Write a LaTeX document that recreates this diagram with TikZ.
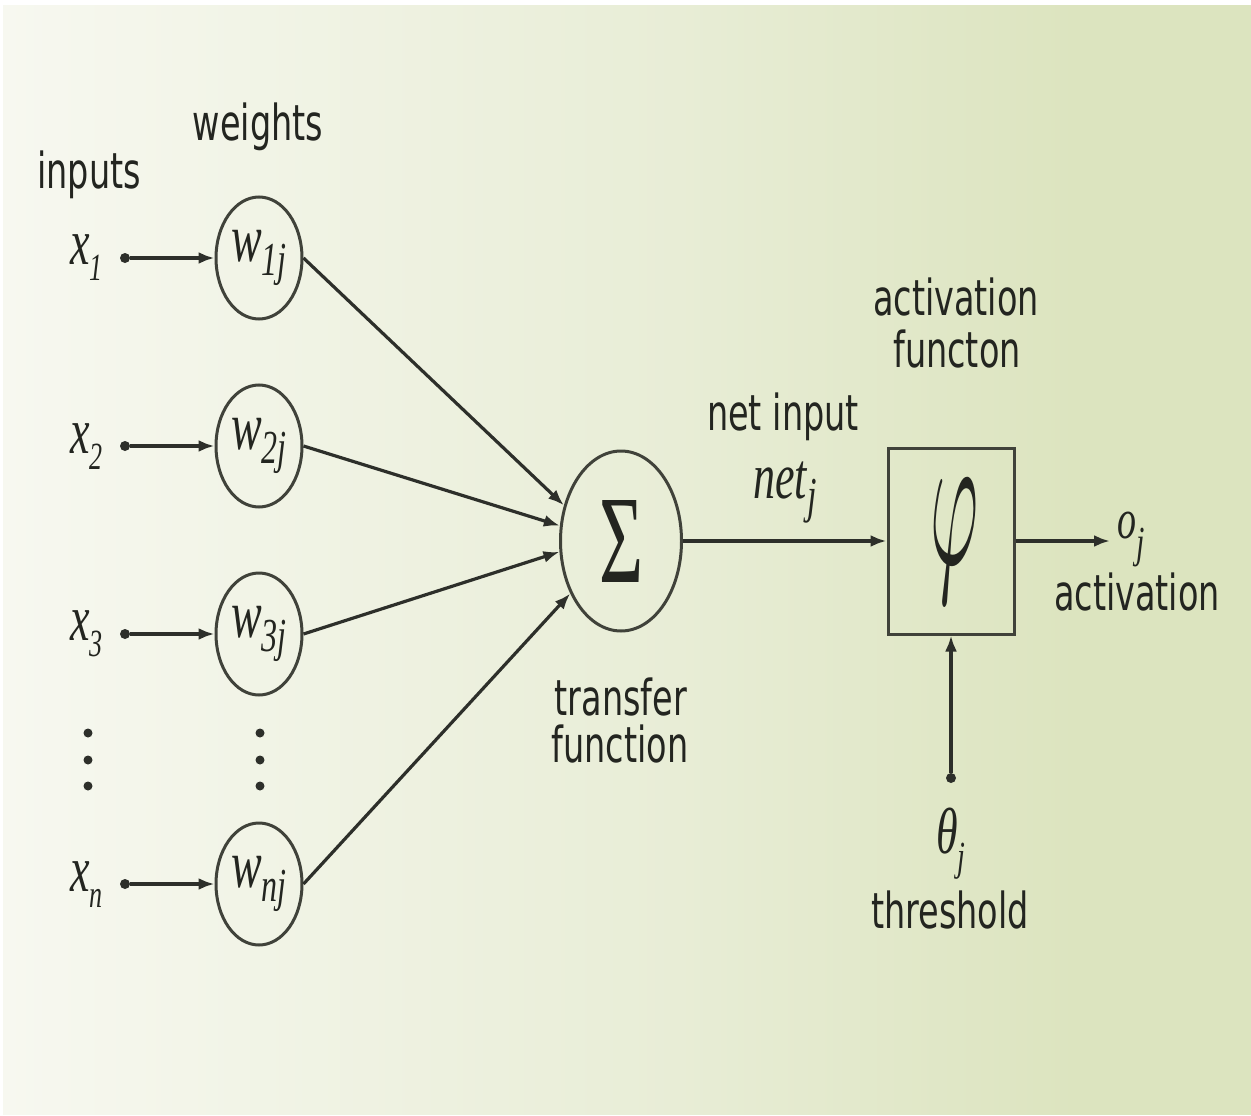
\documentclass[tikz,border=0pt]{standalone}
\usepackage{fontspec}
\usepackage{graphicx}
\setmainfont{Liberation Serif}
\newfontfamily\dejavu{DejaVu Sans}
\usetikzlibrary{arrows.meta,shapes.geometric}
\definecolor{ink}{RGB}{35,37,32}
\definecolor{linec}{RGB}{45,47,42}
\definecolor{ringc}{RGB}{64,66,58}
\definecolor{bgA}{RGB}{247,248,240}
\definecolor{bgB}{RGB}{232,237,214}
\definecolor{bgC}{RGB}{220,228,191}
\pgfdeclarehorizontalshading{bgshade}{100bp}{color(0bp)=(bgA); color(25bp)=(bgA); color(52bp)=(bgB); color(68bp)=(bgC); color(100bp)=(bgC)}
\newcommand{\vsc}[1]{\scalebox{1}[1.48]{#1}}
\newcommand{\mylab}[5]{\scalebox{1}[1.48]{\fontsize{#1pt}{#1pt}\selectfont\itshape #2\raisebox{-#3pt}{\fontsize{#4pt}{#4pt}\selectfont #5}}}
\begin{document}
\begin{tikzpicture}[x=1pt,y=-1pt,
  lbl/.style={font=\dejavu\fontsize{33.5}{40}\selectfont, text=ink, inner sep=0pt, anchor=base},
  symb/.style={text=ink, inner sep=0pt},
  wnode/.style={ellipse, draw=ringc, line width=3pt, minimum width=86pt, minimum height=122pt, inner sep=0pt, text=ink},
  dotnode/.style={circle, fill=linec, inner sep=0pt, minimum size=10pt},
  vdot/.style={circle, fill=linec, inner sep=0pt, minimum size=9pt},
  conn/.style={draw=linec, line width=3.2pt, -{Latex[length=16pt,width=12pt]}}]
% background
\fill[white] (0,0) rectangle (1251,1116);
\shade[shading=bgshade] (3,6) rectangle (1251,1114);
\useasboundingbox (0,0) rectangle (1251,1116);
% headings
\node[lbl] (tw) at (258,140) {\vsc{weights}};
\node[lbl] (ti) at (89,188) {\vsc{inputs}};
% weight nodes
\node[wnode] (w1) at (259,258) {\mylab{46}{w}{9}{32}{1j}};
\node[wnode] (w2) at (259,446) {\mylab{46}{w}{9}{32}{2j}};
\node[wnode] (w3) at (259,634) {\mylab{46}{w}{9}{32}{3j}};
\node[wnode] (wn) at (259,884) {\mylab{46}{w}{9}{32}{nj}};
% input dots
\node[dotnode] (d1) at (125,258) {};
\node[dotnode] (d2) at (125,446) {};
\node[dotnode] (d3) at (125,634) {};
\node[dotnode] (dn) at (125,884) {};
% input labels
\node[symb, anchor=base west] (x1) at (70,264) {\mylab{44}{x}{11}{26}{1}};
\node[symb, anchor=base west] (x2) at (70,453) {\mylab{44}{x}{11}{26}{2}};
\node[symb, anchor=base west] (x3) at (70,640) {\mylab{44}{x}{11}{26}{3}};
\node[symb, anchor=base west] (xn) at (70,891) {\mylab{44}{x}{11}{26}{n}};
% vertical ellipses
\node[vdot] (v1) at (88,733) {};
\node[vdot] (v2) at (88,760) {};
\node[vdot] (v3) at (88,786) {};
\node[vdot] (u1) at (260,733) {};
\node[vdot] (u2) at (260,760) {};
\node[vdot] (u3) at (260,786) {};
% sum node
\node[ellipse, draw=ringc, line width=3pt, minimum width=121pt, minimum height=180pt, inner sep=0pt, text=ink] (sig) at (621,541) {\resizebox{44pt}{82pt}{Σ}};
% activation box
\node[rectangle, draw=ringc, line width=3pt, minimum width=126pt, minimum height=186pt, inner sep=0pt, text=ink] (act) at (951,541) {\hspace*{8pt}\resizebox{48pt}{85pt}{$\varphi$}};
% connectors
\draw[conn] (d1) -- (w1);
\draw[conn] (d2) -- (w2);
\draw[conn] (d3) -- (w3);
\draw[conn] (dn) -- (wn);
\draw[conn] (w1.east) -- (sig.148);
\draw[conn] (w2.east) -- (sig.166);
\draw[conn] (w3.east) -- (sig.190);
\draw[conn] (wn.east) -- (sig.226);
\draw[conn] (sig) -- (act);
\coordinate (oe) at (1110,541);
\draw[conn] (act) -- (oe);
\node[dotnode] (dt) at (951,778) {};
\draw[conn] (dt) -- (act);
% labels
\node[lbl] (tnet) at (783,430) {\vsc{net input}};
\node[symb, anchor=base] (netj) at (785,498) {\mylab{44}{net}{10}{34}{j}};
\node[lbl] (tact1) at (956,315) {\vsc{activation}};
\node[lbl] (tact2) at (957,367) {\vsc{functon}};
\node[lbl] (ttr1) at (621,715) {\vsc{transfer}};
\node[lbl] (ttr2) at (620,762) {\vsc{function}};
\node[symb, anchor=base west] (oj) at (1117,538) {\mylab{38}{o}{13}{30}{j}};
\node[lbl] (tact3) at (1137,610) {\vsc{activation}};
\node[symb, anchor=base] (thj) at (951,853) {\mylab{44}{θ}{12}{28}{j}};
\node[lbl] (tthr) at (950,928) {\vsc{threshold}};
\end{tikzpicture}
\end{document}
